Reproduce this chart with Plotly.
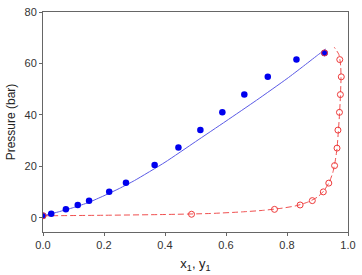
import plotly.graph_objects as go

# Liquid-phase experimental data (x1, P)
liq_x = [0.0, 0.027, 0.075, 0.114, 0.151, 0.217, 0.272, 0.366, 0.444, 0.516, 0.588, 0.660, 0.737, 0.831, 0.923]
liq_p = [0.8, 1.6, 3.3, 5.0, 6.6, 10.1, 13.6, 20.5, 27.3, 34.1, 41.0, 47.9, 54.8, 61.5, 64.1]

# Vapor-phase experimental data (y1, P)
vap_y = [0.0, 0.487, 0.759, 0.843, 0.883, 0.919, 0.937, 0.956, 0.964, 0.967, 0.972, 0.975, 0.978, 0.973, 0.923]
vap_p = [0.8, 1.4, 3.3, 5.0, 6.7, 10.1, 13.5, 20.3, 27.1, 34.1, 41.0, 47.9, 54.8, 61.5, 64.1]

# Model bubble curve
bub_x = [0.0, 0.05, 0.1, 0.15, 0.2, 0.25, 0.3, 0.4, 0.5, 0.6, 0.7, 0.8, 0.85, 0.9, 0.927]
bub_p = [0.8, 2.3, 4.0, 6.0, 8.6, 11.4, 14.5, 21.6, 29.6, 37.6, 45.7, 54.1, 58.6, 63.2, 65.6]

# Model dew curve
dew_y = [0.0, 0.2, 0.4, 0.55, 0.65, 0.72, 0.78, 0.83, 0.87, 0.90, 0.92, 0.937, 0.95, 0.958, 0.964, 0.968, 0.972, 0.975, 0.977, 0.976, 0.970, 0.955]
dew_p = [0.8, 1.0, 1.3, 1.7, 2.3, 2.9, 3.7, 4.7, 6.2, 8.1, 10.4, 13.5, 17.5, 22.0, 27.0, 33.0, 40.0, 47.0, 54.0, 59.0, 63.5, 66.3]

x_ticks = [0.0, 0.2, 0.4, 0.6, 0.8, 1.0]
y_ticks = [0, 20, 40, 60, 80]

fig = go.Figure()
fig.add_trace(go.Scatter(x=bub_x, y=bub_p, mode="lines",
                         line=dict(color="#5a5ae6", width=1, shape="spline", smoothing=0.5),
                         showlegend=False, hoverinfo="skip"))
fig.add_trace(go.Scatter(x=dew_y, y=dew_p, mode="lines",
                         line=dict(color="#f05050", width=1, dash="6px,3px", shape="spline", smoothing=0.6),
                         showlegend=False, hoverinfo="skip"))
fig.add_trace(go.Scatter(x=liq_x, y=liq_p, mode="markers",
                         marker=dict(color="#0000ee", size=6.5, line=dict(width=0)),
                         showlegend=False))
fig.add_trace(go.Scatter(x=vap_y, y=vap_p, mode="markers",
                         marker=dict(symbol="circle-open", color="#ee3a3a", size=6, line=dict(width=1)),
                         showlegend=False))

fig.update_layout(
    width=362, height=275,
    margin=dict(l=43, r=6, t=6, b=43),
    paper_bgcolor="white", plot_bgcolor="white",
    font=dict(family="Liberation Sans, Arial, sans-serif", size=11, color="#333333"),
    xaxis=dict(range=[0, 1.0], tickvals=x_ticks, tickformat=".1f", ticklabeloverflow="allow",
               showgrid=False, zeroline=False, showline=True, linecolor="#666666", linewidth=1,
               mirror=True, ticks="outside", ticklen=3, tickcolor="#666666",
               title=dict(text="x<sub>1</sub>, y<sub>1</sub>", font=dict(size=13, color="#222222"), standoff=8)),
    yaxis=dict(range=[-5.5, 80], tickvals=y_ticks, ticklabeloverflow="allow",
               showgrid=False, zeroline=False, showline=True, linecolor="#666666", linewidth=1,
               mirror=True, ticks="outside", ticklen=3, tickcolor="#666666",
               title=dict(text="Pressure (bar)", font=dict(size=12, color="#222222"), standoff=6)),
)

fig.write_html("out.html")
